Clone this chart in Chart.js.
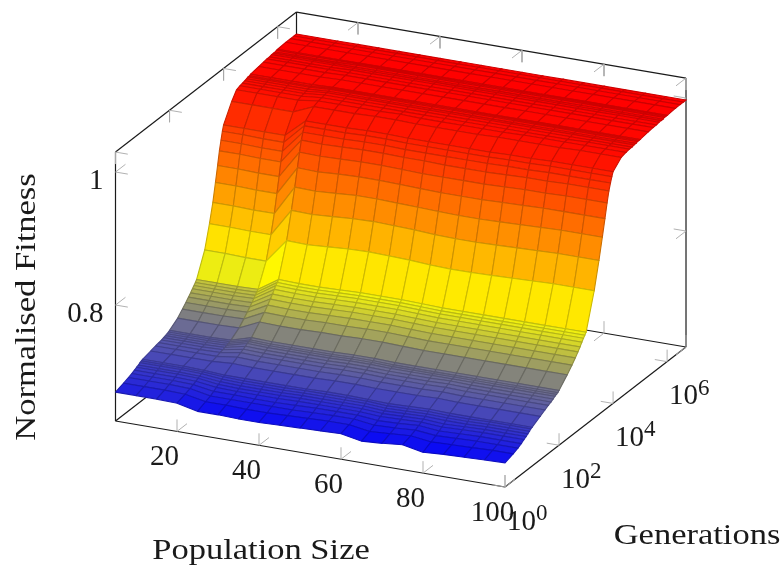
<!DOCTYPE html>
<html>
<head>
<meta charset="utf-8">
<style>
html, body { margin: 0; background: #fff; }
canvas { display: block; }
</style>
<script src="https://cdn.jsdelivr.net/npm/chart.js@4"></script>
</head>
<body>
<canvas id="chart" width="784" height="569"></canvas>
<script>
const populations = [5,10,15,20,25,30,35,40,45,50,55,60,65,70,75,80,85,90,95,100];
const generations = [1,2,3,4,5,6,7,8,9,10,20,30,40,50,60,70,80,90,100,200,300,400,500,600,700,800,900,
    1000,2000,3000,4000,5000,6000,7000,8000,9000,10000,20000,30000,40000,50000,60000,70000,80000,90000,
    100000,200000,300000,400000,500000,600000,700000,800000,900000,1000000,2000000,3000000,4000000,5000000];

// one line per generation count, one value per population size
const fitness = [
[.669,.669,.669,.668,.661,.661,.660,.660,.661,.662,.663,.664,.658,.660,.663,.657,.659,.660,.661,.662],
[.673,.673,.673,.672,.666,.666,.665,.665,.666,.667,.668,.668,.663,.665,.667,.663,.664,.665,.666,.666],
[.676,.676,.676,.675,.669,.669,.669,.669,.669,.670,.671,.671,.667,.668,.670,.667,.668,.669,.669,.669],
[.678,.678,.678,.677,.672,.672,.671,.671,.672,.673,.673,.673,.670,.671,.673,.670,.671,.672,.672,.672],
[.680,.680,.680,.679,.675,.674,.674,.674,.675,.675,.675,.675,.673,.674,.675,.673,.674,.675,.675,.675],
[.682,.682,.682,.681,.677,.676,.676,.676,.677,.677,.677,.677,.675,.676,.677,.675,.676,.677,.677,.677],
[.683,.683,.683,.682,.679,.678,.678,.678,.679,.679,.679,.679,.677,.678,.679,.678,.678,.679,.679,.679],
[.685,.685,.685,.684,.681,.680,.680,.680,.681,.681,.681,.681,.679,.680,.681,.680,.680,.681,.681,.681],
[.686,.686,.686,.685,.683,.682,.682,.682,.683,.683,.683,.683,.681,.682,.683,.682,.682,.683,.683,.683],
[.687,.687,.687,.686,.684,.684,.684,.684,.684,.685,.685,.684,.683,.684,.685,.684,.684,.684,.684,.684],
[.690,.690,.690,.690,.692,.691,.691,.691,.691,.692,.692,.691,.691,.691,.692,.691,.691,.691,.691,.691],
[.692,.692,.692,.692,.696,.695,.695,.695,.695,.696,.696,.695,.695,.695,.696,.695,.695,.695,.695,.695],
[.693,.693,.693,.694,.699,.698,.698,.698,.698,.699,.699,.698,.698,.698,.699,.698,.698,.698,.698,.698],
[.694,.694,.694,.695,.701,.700,.700,.700,.700,.701,.701,.700,.700,.700,.701,.700,.700,.700,.700,.700],
[.695,.695,.695,.696,.703,.702,.702,.702,.702,.703,.703,.702,.702,.702,.703,.702,.702,.702,.702,.702],
[.696,.696,.696,.697,.705,.704,.704,.704,.704,.705,.705,.704,.704,.704,.704,.704,.704,.704,.704,.704],
[.697,.697,.697,.698,.706,.705,.705,.705,.705,.706,.706,.705,.705,.705,.705,.705,.705,.705,.705,.705],
[.698,.698,.698,.699,.707,.706,.706,.706,.706,.707,.707,.706,.706,.706,.706,.706,.706,.706,.706,.706],
[.699,.699,.699,.700,.709,.708,.708,.708,.708,.709,.709,.708,.708,.708,.708,.708,.708,.708,.708,.708],
[.708,.708,.708,.709,.723,.722,.722,.723,.723,.724,.724,.723,.722,.722,.722,.722,.722,.722,.722,.722],
[.716,.716,.716,.717,.732,.731,.731,.732,.732,.733,.733,.732,.731,.731,.731,.731,.731,.731,.731,.731],
[.722,.722,.722,.723,.739,.738,.738,.739,.740,.740,.740,.739,.738,.738,.738,.738,.738,.738,.738,.738],
[.727,.727,.727,.728,.745,.744,.744,.745,.746,.746,.746,.745,.744,.744,.744,.744,.744,.744,.744,.744],
[.731,.731,.731,.732,.750,.749,.749,.750,.751,.751,.751,.750,.749,.749,.749,.749,.749,.749,.749,.749],
[.735,.735,.735,.736,.755,.754,.754,.755,.756,.756,.756,.755,.754,.754,.754,.754,.754,.754,.754,.754],
[.738,.738,.738,.739,.759,.758,.758,.759,.760,.760,.760,.759,.758,.758,.758,.758,.758,.758,.758,.758],
[.741,.741,.741,.742,.762,.761,.761,.762,.763,.763,.763,.762,.761,.761,.761,.761,.761,.761,.761,.761],
[.744,.744,.744,.745,.765,.764,.764,.765,.766,.766,.766,.765,.764,.764,.764,.764,.764,.764,.764,.764],
[.779,.779,.778,.778,.814,.813,.815,.817,.818,.817,.816,.814,.813,.813,.814,.815,.816,.817,.817,.817],
[.813,.813,.812,.812,.854,.853,.855,.857,.858,.857,.856,.854,.853,.853,.854,.855,.856,.857,.857,.857],
[.841,.841,.840,.840,.885,.884,.886,.888,.888,.887,.886,.885,.884,.884,.885,.886,.887,.888,.888,.888],
[.868,.868,.867,.867,.911,.910,.912,.913,.913,.912,.911,.910,.910,.910,.911,.912,.913,.913,.913,.913],
[.891,.891,.890,.890,.932,.931,.932,.933,.933,.932,.931,.931,.931,.931,.932,.933,.933,.934,.934,.934],
[.911,.911,.910,.910,.948,.947,.948,.949,.949,.948,.948,.947,.947,.947,.948,.949,.949,.950,.950,.950],
[.925,.925,.924,.924,.958,.958,.958,.959,.959,.958,.958,.958,.958,.958,.959,.959,.960,.960,.960,.960],
[.937,.937,.936,.936,.966,.966,.966,.967,.967,.966,.966,.966,.966,.966,.967,.967,.968,.968,.968,.968],
[.945,.945,.945,.945,.972,.972,.972,.973,.973,.972,.972,.972,.972,.972,.973,.973,.974,.974,.974,.974],
[.971,.971,.971,.971,.984,.984,.984,.985,.985,.984,.984,.984,.984,.985,.985,.985,.985,.986,.986,.986],
[.983,.983,.983,.983,.987,.987,.987,.987,.988,.987,.987,.987,.987,.987,.988,.988,.988,.988,.988,.988],
[.985,.985,.985,.985,.988,.988,.988,.988,.988,.988,.988,.988,.988,.988,.988,.988,.988,.989,.989,.989],
[.986,.986,.986,.986,.989,.989,.989,.989,.989,.989,.989,.989,.989,.989,.989,.989,.989,.989,.989,.989],
[.987,.987,.987,.987,.990,.990,.990,.990,.990,.990,.990,.990,.990,.990,.990,.990,.990,.990,.990,.990],
[.988,.988,.988,.988,.990,.990,.990,.990,.990,.990,.990,.990,.990,.990,.990,.990,.990,.990,.990,.990],
[.989,.989,.989,.989,.991,.991,.991,.991,.991,.991,.991,.991,.991,.991,.991,.991,.991,.991,.991,.991],
[.989,.989,.989,.989,.991,.991,.991,.991,.991,.991,.991,.991,.991,.991,.991,.991,.991,.991,.991,.991],
[.990,.990,.990,.990,.991,.991,.991,.991,.991,.991,.991,.991,.991,.991,.991,.991,.991,.991,.991,.991],
[.992,.992,.992,.992,.993,.993,.993,.993,.993,.993,.993,.993,.993,.993,.993,.993,.993,.993,.993,.993],
[.993,.993,.993,.993,.994,.994,.994,.994,.994,.994,.994,.994,.994,.994,.994,.994,.994,.994,.994,.994],
[.994,.994,.994,.994,.994,.994,.994,.994,.994,.994,.994,.994,.994,.994,.994,.994,.994,.994,.994,.994],
[.994,.994,.994,.994,.995,.995,.995,.995,.995,.995,.995,.995,.995,.995,.995,.995,.995,.995,.995,.995],
[.995,.995,.995,.995,.995,.995,.995,.995,.995,.995,.995,.995,.995,.995,.995,.995,.995,.995,.995,.995],
[.995,.995,.995,.995,.995,.995,.995,.995,.995,.995,.995,.995,.995,.995,.995,.995,.995,.995,.995,.995],
[.995,.995,.995,.995,.996,.996,.996,.996,.996,.996,.996,.996,.996,.996,.996,.996,.996,.996,.996,.996],
[.996,.996,.996,.996,.996,.996,.996,.996,.996,.996,.996,.996,.996,.996,.996,.996,.996,.996,.996,.996],
[.996,.996,.996,.996,.996,.996,.996,.996,.996,.996,.996,.996,.996,.996,.996,.996,.996,.996,.996,.996],
[.997,.997,.997,.997,.997,.997,.997,.997,.997,.997,.997,.997,.997,.997,.997,.997,.997,.997,.997,.997],
[.997,.997,.997,.997,.997,.997,.997,.997,.997,.997,.997,.997,.997,.997,.997,.997,.997,.997,.997,.997],
[.997,.997,.997,.997,.997,.997,.997,.997,.997,.997,.997,.997,.997,.997,.997,.997,.997,.997,.997,.997],
[.997,.997,.997,.997,.997,.997,.997,.997,.997,.997,.997,.997,.997,.997,.997,.997,.997,.997,.997,.997]
];

const popTicks = [20,40,60,80,100];
const genTicks = [1,100,10000,1000000];
const fitTicks = [0.8,1];
const fitTickLabels = ['0.8','1'];

const popMin = 5, popMax = 100;
const genMin = 1, genMax = 5000000;
const fitMin = 0.6256, fitMax = 1.03;
const colorMin = 0.656, colorMax = 0.997;

// pgfplots style view: data space to page space
function project(pop, gen, fit) {
    let l = Math.log10(gen);
    return {
        x: 115.5 + (pop - popMin) * 4.1 + l * 27.02,
        y: 421 + (pop - popMin) * 0.695 - l * 20.9 - (fit - fitMin) * 665
    };
}

// blue, yellow, orange, red
const hotStops = [[0,0,255],[255,255,0],[255,128,0],[255,0,0]];
function hot(v) {
    let t = Math.min(1, Math.max(0, (v - colorMin) / (colorMax - colorMin))) * 3;
    let i = Math.min(2, Math.floor(t));
    let f = t - i;
    return [0,1,2].map(k => hotStops[i][k] + (hotStops[i+1][k] - hotStops[i][k]) * f);
}
function rgb(c, k) {
    return 'rgb(' + c.map(a => Math.round(a * k)).join(',') + ')';
}

let datasets = [];

// front cells first, chart.js paints the first dataset on top
for (let r = 0; r < generations.length - 1; r++) {
    for (let c = populations.length - 2; c >= 0; c--) {
        let mean = (fitness[r][c] + fitness[r][c+1] + fitness[r+1][c] + fitness[r+1][c+1]) / 4;
        let col = hot(mean);
        datasets.push({
            data: [
                project(populations[c], generations[r], fitness[r][c]),
                project(populations[c+1], generations[r], fitness[r][c+1]),
                project(populations[c+1], generations[r+1], fitness[r+1][c+1]),
                project(populations[c], generations[r+1], fitness[r+1][c]),
                project(populations[c], generations[r], fitness[r][c])
            ],
            showLine: true,
            fill: 'shape',
            backgroundColor: rgb(col, 1),
            borderColor: rgb(col, 0.8),
            borderWidth: 1.1,
            pointRadius: 0
        });
    }
}

function addLine(a, b, color, width) {
    datasets.push({
        data: [project(a[0], a[1], a[2]), project(b[0], b[1], b[2])],
        showLine: true,
        fill: false,
        borderColor: color,
        borderWidth: width,
        pointRadius: 0
    });
}

const tickColor = '#a8a8a8';
const dPop = 3, dGen = Math.pow(10, 0.37), dFit = 0.018;

function addTick(p, g, f, pDir, gDir, fDir) {
    let s = [p, g, f];
    if (pDir) addLine(s, [p + pDir * dPop, g, f], tickColor, 0.9);
    if (gDir) addLine(s, [p, gDir > 0 ? g * dGen : g / dGen, f], tickColor, 0.9);
    if (fDir) addLine(s, [p, g, f + fDir * dFit], tickColor, 0.9);
}

popTicks.forEach(p => {
    addTick(p, genMin, fitMin, 0, 1, 1);
    addTick(p, genMax, fitMax, 0, -1, -1);
    addTick(p, genMax, fitMin, 0, -1, 1);
});
genTicks.forEach(g => {
    addTick(popMax, g, fitMin, -1, 0, 1);
    addTick(popMin, g, fitMax, 1, 0, -1);
});
fitTicks.forEach(f => {
    addTick(popMin, genMin, f, 1, 1, 0);
    addTick(popMax, genMax, f, -1, -1, 0);
});

// axis box, the three edges round the near top corner are left out
const boxColor = '#1a1a1a';
[
    [[popMin,genMin,fitMin],[popMax,genMin,fitMin]],
    [[popMax,genMin,fitMin],[popMax,genMax,fitMin]],
    [[popMin,genMin,fitMin],[popMin,genMax,fitMin]],
    [[popMin,genMax,fitMin],[popMax,genMax,fitMin]],
    [[popMin,genMin,fitMin],[popMin,genMin,fitMax]],
    [[popMin,genMin,fitMax],[popMin,genMax,fitMax]],
    [[popMin,genMax,fitMin],[popMin,genMax,fitMax]],
    [[popMin,genMax,fitMax],[popMax,genMax,fitMax]],
    [[popMax,genMax,fitMin],[popMax,genMax,fitMax]]
].forEach(e => addLine(e[0], e[1], boxColor, 1.2));

const serif = '"Liberation Serif", serif';

// computer modern runs wider than liberation, so stretch the titles
function wideText(ctx, text, x, y, angle) {
    ctx.save();
    ctx.translate(x, y);
    ctx.rotate(angle);
    ctx.scale(1.15, 1);
    ctx.fillText(text, 0, 0);
    ctx.restore();
}

const labelPlugin = {
    id: 'labels3d',
    afterDraw(chart) {
        let ctx = chart.ctx;
        ctx.save();
        ctx.fillStyle = '#1a1a1a';
        ctx.textBaseline = 'middle';
        ctx.font = '29px ' + serif;
        ctx.textAlign = 'center';
        popTicks.forEach(p => {
            let q = project(p, genMin, fitMin);
            ctx.fillText(String(p), q.x - 12.5, q.y + 26);
        });
        genTicks.forEach(g => {
            let q = project(popMax, g, fitMin);
            let e = Math.round(Math.log10(g));
            ctx.font = '29px ' + serif;
            ctx.textAlign = 'right';
            ctx.fillText('10', q.x + 31, q.y + 35);
            ctx.font = '23px ' + serif;
            ctx.textAlign = 'left';
            ctx.fillText(String(e), q.x + 31, q.y + 27);
        });
        ctx.font = '29px ' + serif;
        ctx.textAlign = 'right';
        fitTicks.forEach((f, i) => {
            let q = project(popMin, genMin, f);
            ctx.fillText(fitTickLabels[i], q.x - 12, q.y + 9);
        });
        ctx.textAlign = 'center';
        ctx.font = '30px ' + serif;
        wideText(ctx, 'Population Size', 261, 551, 0);
        wideText(ctx, 'Generations', 697, 536, 0);
        wideText(ctx, 'Normalised Fitness', 27, 307, -Math.PI / 2);
        ctx.restore();
    }
};

new Chart(document.getElementById('chart').getContext('2d'), {
    type: 'scatter',
    data: { datasets: datasets },
    options: {
        responsive: false,
        animation: false,
        events: [],
        layout: { padding: 0 },
        plugins: { legend: { display: false }, tooltip: { enabled: false } },
        scales: {
            x: { type: 'linear', display: false, min: 0, max: 784 },
            y: { type: 'linear', display: false, min: 0, max: 569, reverse: true }
        }
    },
    plugins: [labelPlugin]
});
</script>
</body>
</html>
